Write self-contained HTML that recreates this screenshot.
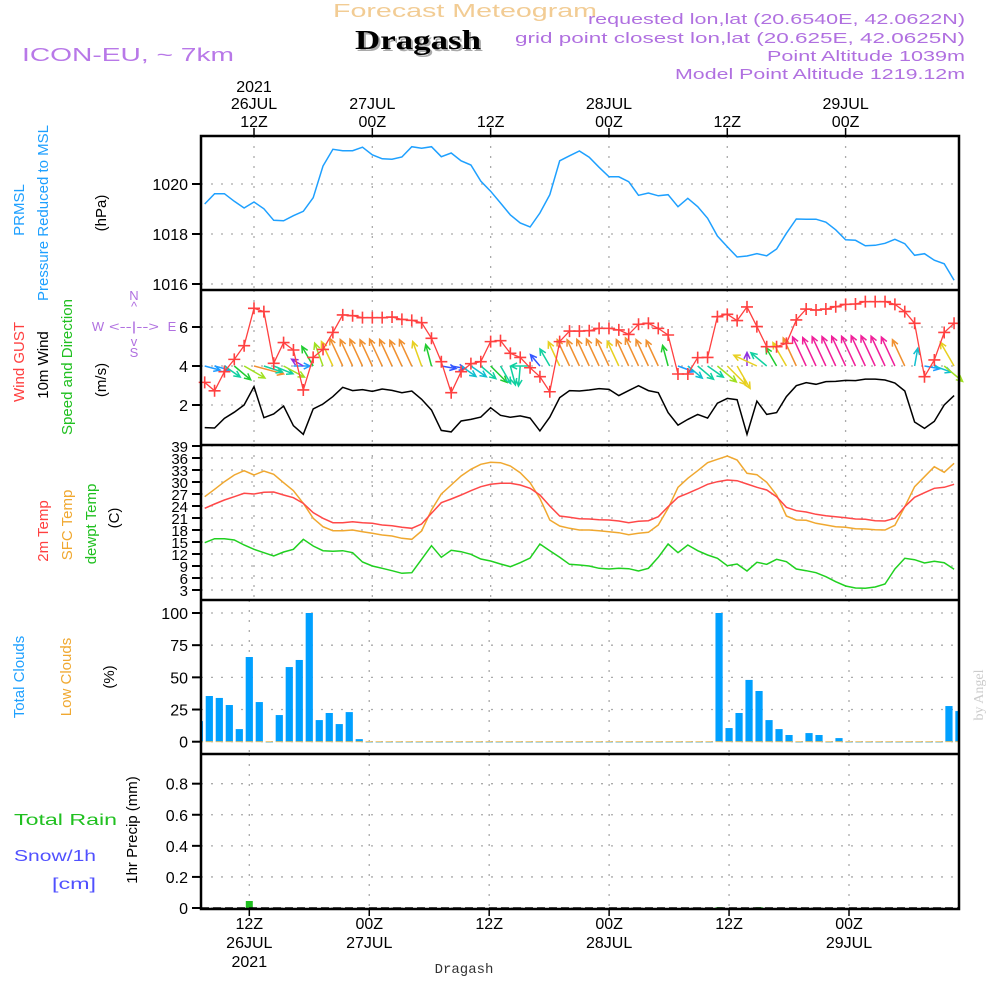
<!DOCTYPE html>
<html><head><meta charset="utf-8"><title>Meteogram Dragash</title>
<style>
html,body{margin:0;padding:0;background:#fff;}
svg{display:block;font-family:"Liberation Sans",sans-serif;}
</style></head>
<body>
<svg id="chart" width="1000" height="1000" viewBox="0 0 1000 1000" xmlns="http://www.w3.org/2000/svg">
<g>
<text x="465" y="17" text-anchor="middle" font-size="18" fill="#f2cc94" textLength="264" lengthAdjust="spacingAndGlyphs">Forecast Meteogram</text>
<text x="418" y="49" text-anchor="middle" font-size="27" font-weight="bold" font-family="Liberation Serif, serif" fill="#aaa" transform="translate(2,2)" textLength="126" lengthAdjust="spacingAndGlyphs">Dragash</text>
<text x="418" y="49" text-anchor="middle" font-size="27" font-weight="bold" font-family="Liberation Serif, serif" fill="#000" textLength="126" lengthAdjust="spacingAndGlyphs">Dragash</text>
<text x="22" y="61" font-size="18" fill="#b878e8" textLength="212" lengthAdjust="spacingAndGlyphs">ICON-EU, ~ 7km</text>
<text x="965" y="24" text-anchor="end" font-size="15" fill="#b070e0" textLength="377" lengthAdjust="spacingAndGlyphs">requested lon,lat (20.6540E, 42.0622N)</text>
<text x="965" y="43" text-anchor="end" font-size="15" fill="#b070e0" textLength="450" lengthAdjust="spacingAndGlyphs">grid point closest lon,lat (20.625E, 42.0625N)</text>
<text x="965" y="61" text-anchor="end" font-size="15" fill="#b070e0" textLength="198" lengthAdjust="spacingAndGlyphs">Point Altitude 1039m</text>
<text x="965" y="79" text-anchor="end" font-size="15" fill="#b070e0" textLength="290" lengthAdjust="spacingAndGlyphs">Model Point Altitude 1219.12m</text>
</g>
<g font-size="15">
<text transform="translate(24,210) rotate(-90)" text-anchor="middle" fill="#1ea0ff">PRMSL</text>
<text transform="translate(48,213) rotate(-90)" text-anchor="middle" fill="#1ea0ff">Pressure Reduced to MSL</text>
<text transform="translate(106,213) rotate(-90)" text-anchor="middle" fill="#000">(hPa)</text>
<text transform="translate(24,362) rotate(-90)" text-anchor="middle" fill="#ff4040">Wind GUST</text>
<text transform="translate(48,365) rotate(-90)" text-anchor="middle" fill="#000">10m Wind</text>
<text transform="translate(72,367) rotate(-90)" text-anchor="middle" fill="#20c020">Speed and Direction</text>
<text transform="translate(106,380) rotate(-90)" text-anchor="middle" fill="#000">(m/s)</text>
<text transform="translate(48,531) rotate(-90)" text-anchor="middle" fill="#ff4040">2m Temp</text>
<text transform="translate(72,525) rotate(-90)" text-anchor="middle" fill="#f0a830">SFC Temp</text>
<text transform="translate(96,524) rotate(-90)" text-anchor="middle" fill="#20c020">dewpt Temp</text>
<text transform="translate(119,518) rotate(-90)" text-anchor="middle" fill="#000">(C)</text>
<text transform="translate(24,677) rotate(-90)" text-anchor="middle" fill="#1ea0ff">Total Clouds</text>
<text transform="translate(71,677) rotate(-90)" text-anchor="middle" fill="#f0a830">Low Clouds</text>
<text transform="translate(114,677) rotate(-90)" text-anchor="middle" fill="#000">(%)</text>
<text x="14" y="825" font-size="16" fill="#20c020" textLength="103" lengthAdjust="spacingAndGlyphs">Total    Rain</text>
<text x="14" y="861" font-size="16" fill="#5050ff" textLength="82" lengthAdjust="spacingAndGlyphs">Snow/1h</text>
<text x="52" y="889" font-size="16" fill="#5050ff" textLength="44" lengthAdjust="spacingAndGlyphs">[cm]</text>
<text transform="translate(137,830) rotate(-90)" text-anchor="middle" fill="#000">1hr Precip (mm)</text>
</g>
<g font-size="13" fill="#b070e0" text-anchor="middle">
<text x="134" y="300">N</text><text x="134" y="311">^</text>
<text x="134" y="331" textLength="50" lengthAdjust="spacingAndGlyphs">&lt;--|--&gt;</text>
<text x="98" y="331">W</text><text x="172" y="331">E</text>
<text x="134" y="346">v</text><text x="134" y="357">S</text>
</g>
<text transform="translate(983,695) rotate(-90)" text-anchor="middle" font-size="14" font-family="Liberation Serif, serif" fill="#ccc">by Angel</text>
<text x="464" y="973" text-anchor="middle" font-size="14" font-family="Liberation Mono, monospace" fill="#333">Dragash</text>
<g id="plot"></g>
</svg>
<script>
// ---- data (hourly, k=0 is 07Z 26JUL) ----
const pressure = [1019.2,1019.61,1019.61,1019.31,1019.04,1019.28,1019.01,1018.55,1018.53,1018.73,1018.91,1019.45,1020.72,1021.39,1021.33,1021.33,1021.47,1021.17,1021.01,1020.99,1021.08,1021.49,1021.43,1021.49,1021.09,1021.24,1020.93,1020.76,1020.11,1019.71,1019.24,1018.76,1018.44,1018.28,1018.84,1019.57,1020.93,1021.13,1021.32,1021.07,1020.67,1020.29,1020.29,1020.09,1019.55,1019.64,1019.53,1019.57,1019.09,1019.43,1019.09,1018.63,1017.92,1017.49,1017.08,1017.12,1017.21,1017.13,1017.4,1018.03,1018.6,1018.59,1018.59,1018.47,1018.17,1017.77,1017.75,1017.53,1017.55,1017.63,1017.79,1017.61,1017.15,1017.21,1016.95,1016.81,1016.15];
const windSpeed = [0.84,0.82,1.32,1.63,2.0,2.94,1.35,1.54,1.95,0.94,0.5,1.8,2.05,2.43,2.91,2.74,2.79,2.7,2.82,2.75,2.63,2.72,2.29,1.74,0.7,0.62,1.18,1.26,1.38,1.86,1.47,1.37,1.44,1.33,0.67,1.38,2.38,2.74,2.72,2.77,2.84,2.8,2.48,2.74,2.99,2.74,2.63,1.61,0.97,1.26,1.52,1.33,2.09,2.34,2.27,0.5,2.2,1.52,1.61,2.43,2.99,3.15,3.06,3.2,3.21,3.26,3.25,3.33,3.33,3.28,3.13,2.72,1.13,0.8,1.16,2.0,2.48];
const windGust = [3.16,2.73,3.71,4.34,5.04,6.96,6.79,4.14,5.2,4.82,2.77,4.44,4.85,5.72,6.62,6.58,6.48,6.48,6.48,6.51,6.39,6.34,6.22,5.42,4.22,2.63,3.71,4.12,4.22,5.25,5.3,4.65,4.44,3.91,3.45,2.68,5.25,5.79,5.79,5.81,5.93,5.93,5.85,5.62,6.14,6.19,5.93,5.59,3.59,3.59,4.43,4.44,6.53,6.65,6.33,7.03,6.02,4.99,4.99,5.16,6.36,6.92,6.87,6.92,7.04,7.16,7.18,7.3,7.3,7.3,7.16,6.79,6.19,3.45,4.31,5.72,6.19];
const windDir = [105,105,125,130,120,105,108,112,118,90,300,330,340,335,335,335,335,335,335,335,335,335,340,345,100,100,125,125,130,135,150,165,185,270,320,330,335,335,335,335,335,335,335,335,335,335,335,345,110,130,130,125,130,135,150,0,295,310,330,330,335,335,335,335,335,335,335,335,335,335,335,335,10,100,110,130,330];
const temp2m = [23.42,24.5,25.5,26.33,27.17,27,27.42,27.5,26.75,26.08,24.67,22.33,20.92,19.83,19.83,20.08,19.83,19.67,19.25,19.08,18.67,18.42,19.5,22.17,24.83,25.75,26.75,27.83,28.83,29.42,29.67,29.67,29.25,28.42,26.75,24,21.5,21.17,20.83,20.75,20.58,20.5,20.25,19.83,20.17,20.33,21.33,23.83,26.17,27.17,28.25,29.42,30.08,30.5,30.33,29.5,28.67,28,26.33,23.67,22.83,22.5,21.92,21.58,21.33,21.08,20.75,20.67,20.33,20.25,20.92,23.83,26.17,27.33,28.42,28.67,29.42];
const tempSfc = [26.33,28.17,30.08,31.75,32.83,31.75,32.75,31.92,29.83,27.83,24.67,20.92,18.83,17.83,17.83,18,17.58,17.17,16.75,16.5,15.92,15.67,17.75,23,27,29.25,31.5,33.17,34.42,34.92,34.83,34,32.33,29.83,25.92,20.5,19,18.42,18,18,17.83,17.58,17.33,16.83,17.17,17.42,19.25,23.42,28.67,30.92,32.83,34.83,35.67,36.5,35.5,32.17,31.83,29.92,26.75,21.5,20.5,20.42,19.67,19.25,18.83,18.67,18.33,18.25,18.08,18,19.17,23.83,28.83,31.33,33.83,32.42,34.67];
const dewpt = [14.83,15.83,15.83,15.5,14.25,13.17,12.33,11.5,12.5,13.17,15.67,14,12.83,12.67,12.83,12.33,10,9,8.42,7.83,7.17,7.33,10.67,14.08,11.17,12.92,12.58,11.92,10.75,10.25,9.5,8.83,9.83,11,14.5,12.83,11.17,9.42,9.25,9,8.42,8.25,8.42,8.33,7.75,8.42,11.17,14.5,12.33,14.25,12.83,11.75,10.92,9.08,9.5,7.75,9.92,9.42,10.67,10.08,8.25,7.83,7.33,6.33,5.08,4,3.5,3.42,3.75,4.5,8.25,10.92,10.58,9.75,10.17,9.83,8.17];
const totalClouds = [16,35.5,34,28.5,9.8,65.8,30.8,0,20.7,58,63.5,100,16.8,22.3,13.7,23,2,0,0,0,0,0,0,0,0,0,0,0,0,0,0,0,0,0,0,0,0,0,0,0,0,0,0,0,0,0,0,0,0,0,0,0,100,10.6,22.3,48,39.4,16.8,9.8,5.2,0,6.7,5.2,0,2.8,0,0,0,0,0,0,0,0,0,0,27.7,23.8];
const rain = [0,0,0,0,0,0.045,0,0,0,0,0,0,0,0,0,0,0,0,0,0,0,0,0,0,0,0,0,0,0,0,0,0,0,0,0,0,0,0,0,0,0,0,0,0,0,0,0,0,0,0,0,0,0.005,0,0,0,0.005,0,0,0,0,0,0,0,0,0,0,0,0,0,0,0,0,0,0,0,0];
const tickHours = [5,17,29,41,53,65];
const tickTime = ["12Z","00Z","12Z","00Z","12Z","00Z"];
const tickDate = ["26JUL","27JUL","","28JUL","","29JUL"];
const pTicks = [1016,1018,1020];
const wTicks = [2,4,6];
const tTicks = [3,6,9,12,15,18,21,24,27,30,33,36,39];
const cTicks = [0,25,50,75,100];
const rTicks = [0,0.2,0.4,0.6,0.8];

// ---- scales ----
const L=201,R=959;
const xs = k => 204.7 + 9.86*k;          // upper panels
const xb = k => 249.3 + 9.995*(k-5);     // cloud/precip panels
const yP = p => 184 - (p-1020)*25;
const yW = v => 444 - v*19.5;
const yT = t => 590 - (t-3)*4;
const yC = c => 741.7 - c*1.287;
const yR = r => 908 - r*155.4;
const panels=[[136,290],[290,445],[445,600],[600,754],[754,909]];

const NS="http://www.w3.org/2000/svg";
const plot=document.getElementById('plot');
function mk(tag,attrs,parent){const e=document.createElementNS(NS,tag);for(const a in attrs)e.setAttribute(a,attrs[a]);(parent||plot).appendChild(e);return e;}
function grp(name){const g=mk('g',{});return g;}

const defs=mk('defs',{});
const cp=mk('clipPath',{id:'clip'},defs);mk('rect',{x:L,y:136,width:R-L,height:773},cp);

const grid=grp('grid');
panels.forEach((p,i)=>{
  tickHours.forEach(h=>{const x=i<3?xs(h):xb(h);mk('line',{x1:x,x2:x,y1:p[0],y2:p[1],stroke:'#aaa','stroke-width':1.3,'stroke-dasharray':'2,8'},grid);});
});
function hgrid(ticks,yf,fmt,fs,panelName){
  const g=grp(panelName+'-y-axis');
  ticks.forEach(t=>{const y=yf(t);
    mk('line',{x1:L,x2:R,y1:y,y2:y,stroke:'#aaa','stroke-width':1.3,'stroke-dasharray':'2,8'},grid);
    mk('line',{x1:192,x2:L,y1:y,y2:y,stroke:'#000','stroke-width':2},g);
    const tx=mk('text',{x:188,y:y+6,'text-anchor':'end','font-size':fs,fill:'#000'},g);tx.textContent=fmt(t);
    
    
  });
}
hgrid(pTicks,yP,String,16,'pressure');
hgrid(wTicks,yW,String,16,'wind');
hgrid(tTicks,yT,String,15,'temp');
hgrid(cTicks,yC,String,16,'clouds');
hgrid(rTicks,yR,t=>t===0?'0':t.toFixed(1),16,'precip');

const cg=grp('cloud-bars');cg.setAttribute('clip-path','url(#clip)');
totalClouds.forEach((c,k)=>{const x=xb(k);const b=mk('rect',{x:x-3.6,y:yC(c),width:7.2,height:Math.max(0.8,yC(0)-yC(c)),fill:'#00a0ff'},cg);
  
  
  mk('line',{x1:x-3.6,x2:x+3.6,y1:yC(0),y2:yC(0),stroke:'#f0c060','stroke-width':1},cg);
});
const rg=grp('precip-bars');
rain.forEach((r,k)=>{if(r<=0)return;const x=xb(k);const b=mk('rect',{x:x-3.5,y:yR(r),width:7,height:yR(0)-yR(r),fill:'#20c020'},rg);
  
  });
mk('line',{x1:L,x2:R,y1:yR(0),y2:yR(0),stroke:'#000','stroke-width':1.5,'stroke-dasharray':'8,4'},rg);

function line(arr,xf,yf,color,name,w){const d=arr.map((v,k)=>(k?'L':'M')+xf(k).toFixed(1)+','+yf(v).toFixed(1)).join('');
  const p=mk('path',{d:d,fill:'none',stroke:color,'stroke-width':w||1.5,'clip-path':'url(#clip)'});
  
  return p;}
line(pressure,xs,yP,'#1ea0ff','pressure-line');
line(tempSfc,xs,yT,'#f0a830','sfc-temp-line');
line(temp2m,xs,yT,'#ff4848','t2m-temp-line');
line(dewpt,xs,yT,'#20d020','dewpt-line');
line(windSpeed,xs,yW,'#000','wind-speed-line');

function spdColor(v){if(v<0.6)return '#9030e0';if(v<0.8)return '#3355ff';if(v<1.0)return '#1e9bff';if(v<1.3)return '#10c0d0';if(v<1.6)return '#10d0a0';if(v<1.9)return '#20cc30';if(v<2.2)return '#a0e020';if(v<2.5)return '#e8d020';if(v<3.05)return '#f09030';return '#f0209a';}
const ag=grp('wind-arrows');
windDir.forEach((dir,k)=>{const v=windSpeed[k];const len=10+7*v;const a=dir*Math.PI/180;
  const x0=xs(k),y0=yW(4);const x1=x0+len*Math.sin(a),y1=y0-len*Math.cos(a);
  const c=spdColor(v);const hl=7,ang=Math.atan2(y1-y0,x1-x0);
  const hx1=x1-hl*Math.cos(ang-0.45),hy1=y1-hl*Math.sin(ang-0.45),hx2=x1-hl*Math.cos(ang+0.45),hy2=y1-hl*Math.sin(ang+0.45);
  const p=mk('path',{d:`M${x0},${y0}L${x1},${y1}M${hx1},${hy1}L${x1},${y1}L${hx2},${hy2}`,stroke:c,'stroke-width':1.5,fill:'none'},ag);
  
  
});
line(windGust,xs,yW,'#ff4040','gust-line',1.3);
const gg=grp('gust-markers');
windGust.forEach((g,k)=>{const x=xs(k),y=yW(g);const m=mk('path',{d:`M${x-6},${y}H${x+6}M${x},${y-6}V${y+6}`,stroke:'#ff4040','stroke-width':1.6},gg);
  
  });

const fr=grp('panel-frames');
mk('rect',{x:L,y:136,width:R-L,height:773,fill:'none',stroke:'#000','stroke-width':2.5},fr);
[290,445,600,754].forEach(y=>mk('line',{x1:L,x2:R,y1:y,y2:y,stroke:'#000','stroke-width':2.5},fr));

const tg=grp('x-axis-top');const bg=grp('x-axis-bottom');
tickHours.forEach((h,i)=>{
  const x=xs(h);mk('line',{x1:x,x2:x,y1:128,y2:136,stroke:'#000','stroke-width':1.5},tg);
  let t=mk('text',{x:x,y:127,'text-anchor':'middle','font-size':16},tg);t.textContent=tickTime[i];
  
  
  if(tickDate[i]){t=mk('text',{x:x,y:109,'text-anchor':'middle','font-size':16},tg);t.textContent=tickDate[i];}
  if(i===0){t=mk('text',{x:x,y:92,'text-anchor':'middle','font-size':16},tg);t.textContent='2021';}
  const xB=xb(h);mk('line',{x1:xB,x2:xB,y1:909,y2:916,stroke:'#000','stroke-width':1.5},bg);
  t=mk('text',{x:xB,y:929,'text-anchor':'middle','font-size':16},bg);t.textContent=tickTime[i];
  
  
  if(tickDate[i]){t=mk('text',{x:xB,y:948,'text-anchor':'middle','font-size':16},bg);t.textContent=tickDate[i];}
  if(i===0){t=mk('text',{x:xB,y:967,'text-anchor':'middle','font-size':16},bg);t.textContent='2021';}
});
</script>
</body></html>
